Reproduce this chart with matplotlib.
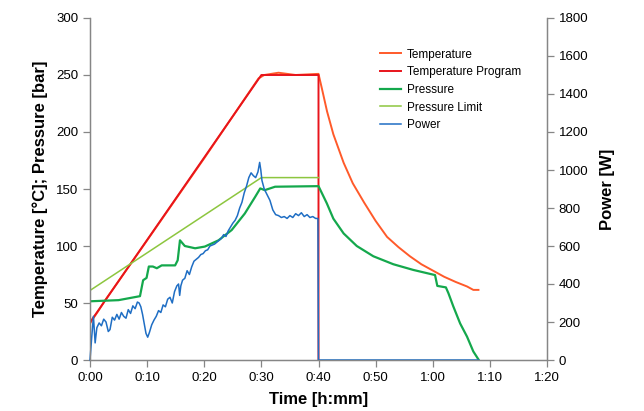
import matplotlib
matplotlib.use("Agg")
import matplotlib.pyplot as plt

# time in minutes
temp_t = [0, 0.5, 1.45, 2.6, 10, 20, 29.5, 30.5, 33, 36, 40,
          40.6, 41.5, 42.6, 44.4, 46, 48, 50, 52, 54, 56, 58, 60,
          62, 64, 66, 67.1, 68]
temp_v = [32, 36, 43, 52, 105, 177, 247, 250, 252, 250, 251,
          238, 218, 198, 173, 155, 138, 122, 108, 99, 91, 84, 78.5,
          73, 68.5, 64.5, 61.5, 61.5]

prog_t = [0, 30, 40, 40]
prog_v = [33, 250, 250, 0]

pres_t = [0, 5, 8.75, 9.3, 9.9, 10.3, 11.0, 11.7, 12.55, 14.9, 15.35, 15.75,
          16.6, 18.4, 20.1, 22.5, 24.8, 27.1, 28.9, 29.8, 30.6, 32.4, 40,
          41.45, 42.6, 44.4, 46.7, 49.6, 53.1, 56.6, 60.4, 60.8, 62.3,
          62.75, 63.6, 64.8, 66, 67.1, 68]
pres_v = [51.5, 52.5, 56, 70, 72, 82, 82, 80.5, 83, 83, 87.5, 105,
          100, 98, 99.5, 105, 114, 128.5, 143, 150.5, 149, 152, 152.5,
          137.5, 124, 111, 100, 91, 84, 79, 74.5, 65, 63.7,
          58.5, 47, 32, 20.5, 7.5, 0.5]

limit_t = [0, 30, 40]
limit_v = [61, 160, 160]

power_t = [0, 0.3, 0.6, 0.9, 1.2, 1.6, 2.0, 2.4, 2.8, 3.2,
           3.5, 3.9, 4.3, 4.7, 5.1, 5.5, 5.9, 6.3, 6.7, 7.1,
           7.5, 7.9, 8.3, 8.6, 8.9, 9.2, 9.5, 9.8, 10.1, 10.4,
           10.8, 11.2, 11.6, 12.0, 12.4, 12.8, 13.2, 13.6, 14.0, 14.4,
           14.8, 15.2, 15.5, 15.7, 15.9, 16.2, 16.6, 17.0, 17.4, 17.8,
           18.2, 18.6, 19.0, 19.4, 19.8, 20.2, 20.6, 21.0, 21.4, 21.8,
           22.2, 22.6, 23.0, 23.4, 23.8, 24.2, 24.6, 25.0, 25.4, 25.8,
           26.2, 26.6, 27.0, 27.4, 27.8, 28.2, 28.6, 29.0, 29.4, 29.7,
           29.9, 30.1, 30.5, 31.0, 31.5, 32.0, 32.5, 33.0, 33.5, 34.0,
           34.5, 35.0, 35.5, 36.0, 36.5, 37.0, 37.5, 38.0, 38.5, 39.0,
           39.5, 39.9, 40.0, 68.0]
power_v = [0, 120, 230, 90, 170, 195, 180, 215, 200, 150,
           160, 225, 210, 240, 215, 250, 230, 220, 265, 245,
           285, 270, 305, 300, 280, 240, 190, 140, 120, 145,
           185, 210, 230, 260, 250, 290, 280, 320, 330, 300,
           360, 390, 400, 340, 390, 420, 430, 470, 450, 490,
           520, 530, 540, 555, 560, 575, 580, 600, 605, 610,
           620, 630, 640, 660, 650, 680, 700, 720, 735, 760,
           800, 830, 880, 915, 960, 985, 970, 960, 990, 1040,
           1000, 945, 900, 870, 840, 790, 765, 760, 750, 755,
           745, 760, 750, 770, 760, 775, 755, 765, 750, 755,
           745, 745, 0, 0]

xticks = [0, 10, 20, 30, 40, 50, 60, 70, 80]
xtick_labels = ["0:00", "0:10", "0:20", "0:30", "0:40", "0:50", "1:00", "1:10", "1:20"]

plt.rcParams['font.family'] = ['Liberation Sans', 'DejaVu Sans']
grey = '#868686'

fig = plt.figure(figsize=(6.44, 4.11), dpi=100)
ax = fig.add_axes([90 / 644, 51 / 411, 457 / 644, 342 / 411])
ax2 = ax.twinx()

l1, = ax.plot(temp_t, temp_v, color='#FF5A2A', lw=1.4, label='Temperature')
l2, = ax.plot(prog_t, prog_v, color='#E8141B', lw=1.4, label='Temperature Program')
l3, = ax.plot(pres_t, pres_v, color='#14A84C', lw=1.6, label='Pressure')
l4, = ax.plot(limit_t, limit_v, color='#8DC63F', lw=1.1, label='Pressure Limit')
l5, = ax2.plot(power_t, power_v, color='#1F6EC4', lw=1.1, label='Power', clip_on=False)

ax.set_xlim(0, 80)
ax.set_ylim(0, 300)
ax2.set_ylim(0, 1800)
ax.set_xticks(xticks)
ax.set_xticklabels(xtick_labels)
ax.set_yticks(range(0, 301, 50))
ax2.set_yticks(range(0, 1801, 200))

for a in (ax, ax2):
    a.spines['top'].set_visible(False)
    for s in ('left', 'right', 'bottom'):
        a.spines[s].set_color(grey)
        a.spines[s].set_linewidth(0.9)
    a.tick_params(colors=grey, labelcolor='black', labelsize=9.5, length=5, width=0.9)

ax.set_xlabel('Time [h:mm]', fontsize=12, fontweight='bold', labelpad=6)
ax.set_ylabel('Temperature [°C]; Pressure [bar]', fontsize=12, fontweight='bold', labelpad=6)
ax2.set_ylabel('Power [W]', fontsize=12, fontweight='bold', labelpad=8)

fig.legend(handles=[l1, l2, l3, l4, l5], loc='upper left',
           bbox_to_anchor=(369 / 644, 1 - 38 / 411), frameon=False,
           fontsize=8.5, handlelength=1.8, labelspacing=0.48, handletextpad=0.5)

fig.savefig('out.png', dpi=100)
